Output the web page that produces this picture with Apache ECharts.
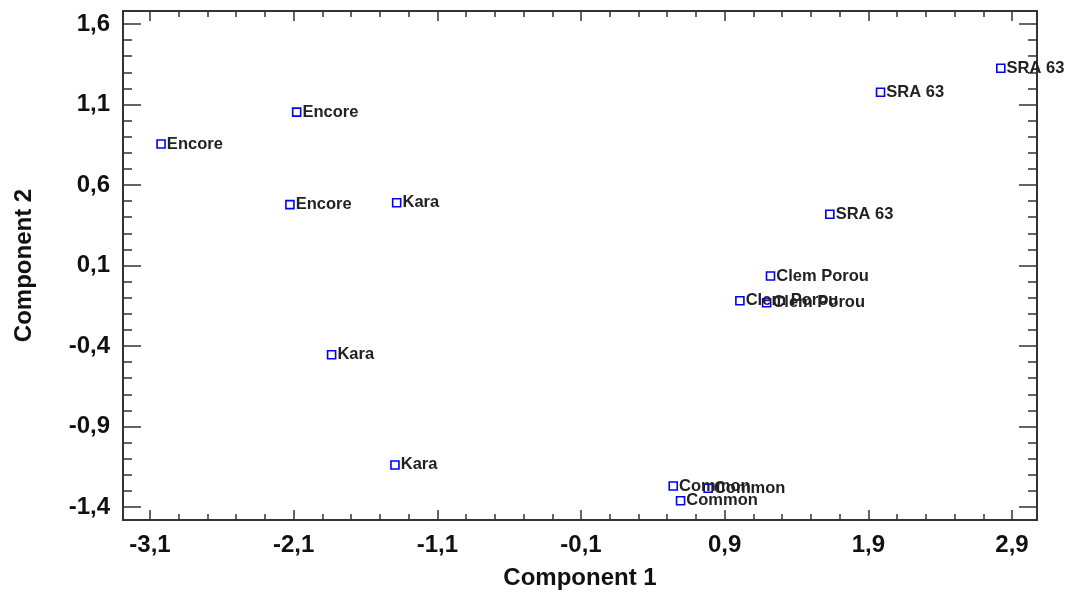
<!DOCTYPE html>
<html>
<head>
<meta charset="utf-8">
<script src="https://cdn.jsdelivr.net/npm/echarts@6/dist/echarts.min.js"></script>
<style>
html,body{margin:0;padding:0;background:#fff;}
#chart{width:1067px;height:601px;}
</style>
</head>
<body>
<div id="chart"></div>
<script>
// ---- data ----
var pointLabels = ["Encore","Encore","Encore","Kara","Kara","Kara","Common","Common","Common","Clem Porou","Clem Porou","Clem Porou","SRA 63","SRA 63","SRA 63"];
var component1 = [-3.023,-2.079,-2.126,-1.383,-1.836,-1.395,0.542,0.593,0.785,1.219,1.006,1.192,1.632,1.985,2.822];
var component2 = [0.855,1.053,0.478,0.490,-0.454,-1.139,-1.270,-1.361,-1.284,0.035,-0.119,-0.131,0.418,1.176,1.325];
var xTicks = [-3.1,-2.1,-1.1,-0.1,0.9,1.9,2.9];
var yTicks = [-1.4,-0.9,-0.4,0.1,0.6,1.1,1.6];
var xMinorStep = 0.2, yMinorStep = 0.1;
var xRange = [-3.288, 3.074];
var yRange = [-1.481, 1.681];

function minorValues(ticks, step, range){
  var out = [];
  var start = ticks[0];
  while (start - step >= range[0]) start -= step;
  for (var v = start; v <= range[1] + 1e-9; v += step) {
    out.push(Math.round(v * 1000) / 1000);
  }
  return out;
}
var xMinor = minorValues(xTicks, xMinorStep, xRange);
var yMinor = minorValues(yTicks, yMinorStep, yRange);

function fmt(v){ return String(Math.round(v*10)/10).replace('.', ','); }

var lineStyle = {color:'#333', width:2};
var labelStyle = {color:'#111', fontSize:24, fontWeight:'bold', fontFamily:'Liberation Sans, Arial, sans-serif'};
var nameStyle = {color:'#111', fontSize:24, fontWeight:'bold', fontFamily:'Liberation Sans, Arial, sans-serif'};

function xAx(pos, major, withLabels){
  return {
    type:'value', position:pos, min:xRange[0], max:xRange[1],
    axisLine:{show:true, onZero:false, lineStyle:lineStyle},
    axisTick:{show:true, inside:true, length: major?10:6, customValues: major?xTicks:xMinor, lineStyle:{color:'#333', width:1.5}},
    axisLabel: withLabels ? Object.assign({show:true, margin:13, customValues:xTicks, formatter:fmt}, labelStyle) : {show:false},
    splitLine:{show:false},
    name: withLabels ? 'Component 1' : '',
    nameLocation:'middle', nameGap:46, nameTextStyle:nameStyle
  };
}
function yAx(pos, major, withLabels){
  return {
    type:'value', position:pos, min:yRange[0], max:yRange[1],
    axisLine:{show:true, onZero:false, lineStyle:lineStyle},
    axisTick:{show:true, inside:true, length: major?18:9, customValues: major?yTicks:yMinor, lineStyle:{color:'#333', width:1.5}},
    axisLabel: withLabels ? Object.assign({show:true, margin:13, customValues:yTicks, formatter:fmt}, labelStyle) : {show:false},
    splitLine:{show:false},
    name: withLabels ? 'Component 2' : '',
    nameLocation:'middle', nameGap:87, nameRotate:90, nameTextStyle:nameStyle
  };
}

var data = component1.map(function(x,i){ return [x, component2[i], pointLabels[i]]; });

var chart = echarts.init(document.getElementById('chart'), null, {renderer:'canvas'});
chart.setOption({
  animation:false,
  backgroundColor:'#fff',
  grid:{left:123, right:30, top:11, bottom:81, containLabel:false},
  xAxis:[xAx('bottom',true,true), xAx('bottom',false,false), xAx('top',true,false), xAx('top',false,false)],
  yAxis:[yAx('left',true,true), yAx('left',false,false), yAx('right',true,false), yAx('right',false,false)],
  series:[{
    type:'scatter', xAxisIndex:0, yAxisIndex:0,
    symbol:'rect', symbolSize:8,
    itemStyle:{color:'#fff', borderColor:'#0000ff', borderWidth:1.6, opacity:1},
    label:{show:true, position:'right', distance:1, formatter:function(p){return p.data[2];},
      color:'#222', fontSize:16.5, fontWeight:'bold', fontFamily:'Liberation Sans, Arial, sans-serif'},
    labelLayout:{hideOverlap:false},
    data:data
  }]
});
</script>
</body>
</html>
